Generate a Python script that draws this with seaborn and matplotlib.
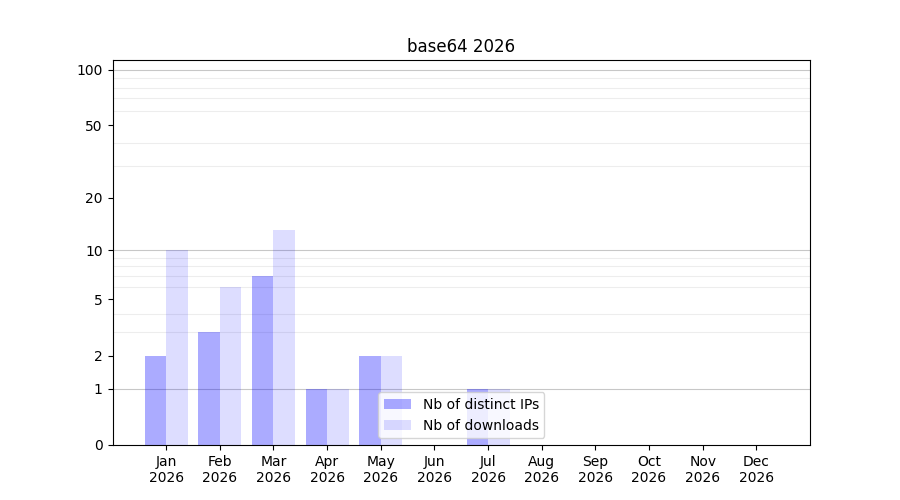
import numpy as np
import pandas as pd
import matplotlib
matplotlib.use("Agg")
import matplotlib.pyplot as plt
import seaborn as sns

# Monthly values
months = ["Jan", "Feb", "Mar", "Apr", "May", "Jun",
          "Jul", "Aug", "Sep", "Oct", "Nov", "Dec"]
year = "2026"
distinct_ips = [2, 3, 7, 1, 2, 0, 1, 0, 0, 0, 0, 0]
downloads = [10, 6, 13, 1, 2, 0, 1, 0, 0, 0, 0, 0]
series_names = ["Nb of distinct IPs", "Nb of downloads"]

df = pd.DataFrame({
    "month": months * 2,
    "count": distinct_ips + downloads,
    "series": [series_names[0]] * len(months) + [series_names[1]] * len(months),
})

fig, ax = plt.subplots(figsize=(9, 5), dpi=100)

sns.barplot(data=df, x="month", y="count", hue="series", order=months,
            hue_order=series_names, palette=["blue", "blue"], legend=False,
            saturation=1, ax=ax, zorder=2)

# translucent blue like the original
bar_colors = [(0, 0, 1, 0.33), (0, 0, 1, 0.133)]
for cont, col in zip(ax.containers, bar_colors):
    for p in cont:
        p.set_facecolor(col)
        p.set_edgecolor("none")

# y scale: log10(1 + y)
ax.set_yscale("function", functions=(lambda v: np.log10(1 + np.clip(v, 0, None)),
                                     lambda v: 10 ** v - 1))
ax.set_ylim(0, 113)
ax.set_xlim(-1, 12)

ax.set_yticks([0, 1, 2, 5, 10, 20, 50, 100])
ax.set_yticklabels(["0", "1", "2", "5", "10", "20", "50", "100"])
minor = [2, 3, 4, 5, 6, 7, 8, 9, 20, 30, 40, 50, 60, 70, 80, 90]
ax.set_yticks(minor, minor=True)
ax.tick_params(axis="y", which="minor", length=0)
ax.grid(False)
ax.grid(True, axis="y", which="minor", color="black", alpha=0.07, linewidth=0.8, zorder=1)
for v in [1, 10, 100]:
    ax.axhline(v, color="black", alpha=0.22, linewidth=0.8, zorder=1)

ax.set_xticks(range(len(months)))
ax.set_xticklabels([f"{m}\n{year}" for m in months])
ax.set_xlabel("")
ax.set_ylabel("")
ax.set_title(f"base64 {year}")

ax.legend(ax.containers, series_names, loc="lower center")

plt.savefig("out.png")
